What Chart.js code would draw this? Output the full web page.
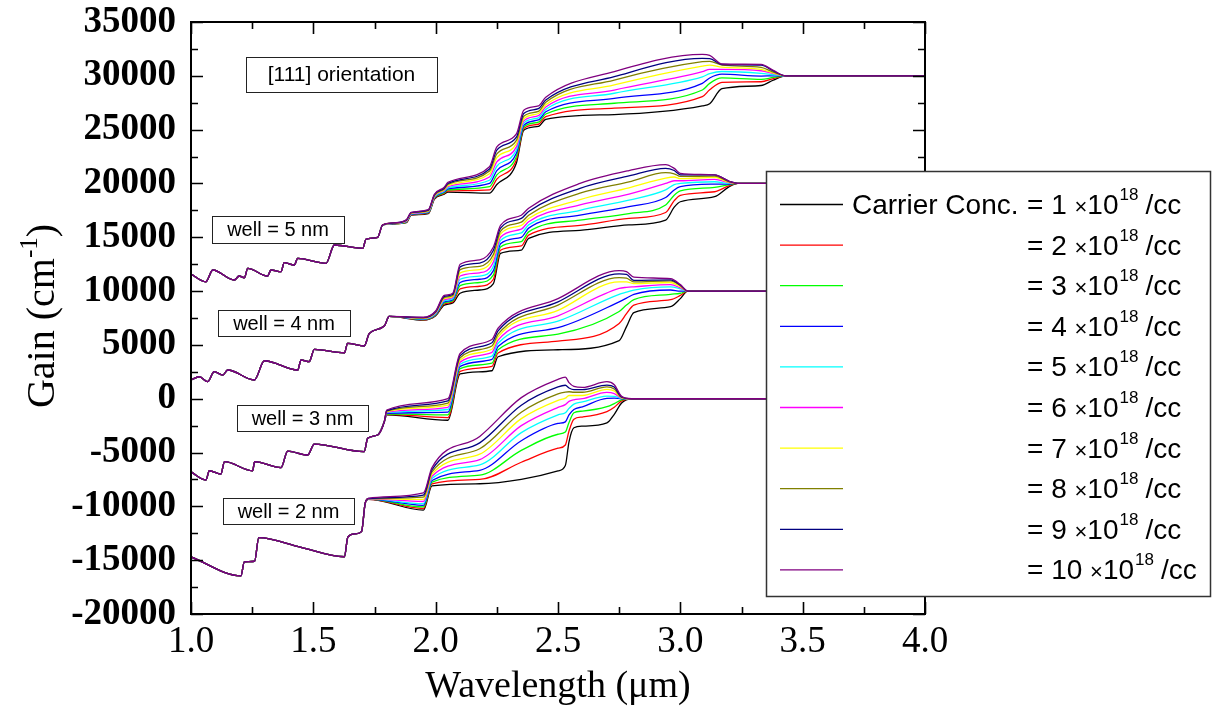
<!DOCTYPE html>
<html>
<head>
<meta charset="utf-8">
<title>Gain spectra</title>
<script src="https://cdn.jsdelivr.net/npm/chart.js@4.4.1/dist/chart.umd.min.js"></script>
<style>
  html, body { margin: 0; padding: 0; background: #fff; }
  canvas { display: block; }
</style>
</head>
<body>
<canvas id="chart" width="1212" height="712"></canvas>
<script>
// carrier concentrations (x10^18 /cc) and their line colours
var concentrations = [1, 2, 3, 4, 5, 6, 7, 8, 9, 10];
var lineColors = ['#000000', '#ff0000', '#00ff00', '#0000ff', '#00ffff',
                  '#ff00ff', '#ffff00', '#808000', '#000080', '#800080'];
var wellLabels = ['well = 5 nm', 'well = 4 nm', 'well = 3 nm', 'well = 2 nm'];

// well = 2 nm : part where all curves coincide
var well2CommonX = [1.0, 1.204, 1.218, 1.26, 1.277, 1.45, 1.627, 1.641, 1.67, 1.697, 1.712];
var well2CommonGain = [-14700, -16450, -15150, -15100, -12900, -13800, -14680, -12850, -12550, -12350, -9700];
// well = 2 nm : one row per wavelength, one value per concentration (1..10)
var well2SplitX = [1.725, 1.95, 1.985, 2.18, 2.35, 2.5, 2.53, 2.545, 2.565, 2.6, 2.7, 2.73, 2.76, 2.8, 4.0];
var well2SplitGain = [
  [-9350, -9340, -9330, -9320, -9310, -9300, -9290, -9280, -9270, -9250],
  [-10350, -10200, -10050, -9900, -9750, -9550, -9350, -9150, -8950, -8750],
  [-8100, -7900, -7750, -7600, -7400, -7200, -7000, -6800, -6600, -6400],
  [-7900, -7500, -7100, -6650, -6150, -5650, -5150, -4650, -4100, -3500],
  [-7500, -5900, -4800, -3900, -3150, -2500, -1850, -1250, -600, 100],
  [-6700, -4600, -3300, -2300, -1500, -800, -150, 450, 1100, 1800],
  [-6200, -4300, -3100, -2150, -1300, -550, 50, 620, 1250, 2000],
  [-4000, -3000, -2200, -1500, -900, -250, 300, 650, 1000, 1500],
  [-2700, -1900, -1300, -1000, -500, -100, 300, 600, 850, 1150],
  [-2550, -1700, -1150, -750, -300, 0, 300, 600, 850, 1050],
  [-2250, -1200, -740, 40, 250, 590, 870, 1110, 1270, 1580],
  [-1450, -800, -450, 50, 220, 480, 720, 900, 1080, 1300],
  [-400, -200, -100, 0, 30, 60, 90, 120, 160, 220],
  [0, 0, 0, 0, 0, 0, 0, 0, 0, 0],
  [0, 0, 0, 0, 0, 0, 0, 0, 0, 0]
];

// well = 3 nm
var well3CommonX = [1.0, 1.061, 1.075, 1.122, 1.137, 1.252, 1.26, 1.368, 1.395, 1.477, 1.504, 1.708, 1.722, 1.763, 1.79];
var well3CommonGain = [-6800, -7550, -6690, -7000, -5850, -6690, -5850, -6410, -4860, -5230, -4210, -4920, -3680, -3370, -2140];
var well3SplitX = [1.8, 2.05, 2.1, 2.23, 2.255, 2.5, 2.75, 2.78, 2.81, 2.96, 3.0, 3.03, 4.0];
var well3SplitGain = [
  [-1500, -1450, -1400, -1350, -1300, -1250, -1200, -1150, -1100, -1050],
  [-2000, -1750, -1500, -1250, -1000, -800, -600, -400, -200, 0],
  [2300, 2550, 2800, 3000, 3200, 3400, 3600, 3800, 4000, 4200],
  [2600, 3000, 3300, 3650, 3950, 4300, 4600, 4900, 5200, 5500],
  [3900, 4250, 4550, 4850, 5150, 5450, 5750, 6000, 6300, 6550],
  [4550, 5350, 6000, 6600, 7200, 7700, 8200, 8700, 9000, 9300],
  [5400, 7000, 8100, 9000, 9700, 10250, 10850, 11250, 11600, 11900],
  [6700, 7900, 8700, 9350, 9900, 10350, 10850, 11200, 11550, 11800],
  [8000, 8700, 9200, 9700, 10100, 10400, 10700, 10850, 11000, 11300],
  [8550, 9200, 9700, 10100, 10400, 10600, 10800, 10950, 11050, 11150],
  [9300, 9600, 9800, 10000, 10200, 10300, 10400, 10500, 10550, 10600],
  [10000, 10000, 10000, 10000, 10000, 10000, 10000, 10000, 10000, 10000],
  [10000, 10000, 10000, 10000, 10000, 10000, 10000, 10000, 10000, 10000]
];

// well = 4 nm
var well4CommonX = [1.0, 1.034, 1.068, 1.095, 1.13, 1.15, 1.259, 1.3, 1.436, 1.45, 1.483, 1.504, 1.627, 1.64, 1.708, 1.729, 1.79, 1.81];
var well4CommonGain = [1740, 2040, 1580, 2510, 2200, 2670, 1740, 3530, 2670, 3600, 3440, 4590, 4270, 5150, 4900, 6075, 6750, 7650];
var well4SplitX = [1.95, 2.0, 2.035, 2.07, 2.1, 2.18, 2.236, 2.265, 2.35, 2.38, 2.59, 2.79, 2.94, 2.975, 3.0, 3.14, 3.2, 3.235, 4.0];
var well4SplitGain = [
  [7300, 7330, 7360, 7390, 7420, 7450, 7480, 7510, 7540, 7570],
  [7700, 7750, 7800, 7850, 7900, 7950, 8000, 8050, 8100, 8150],
  [8700, 8800, 8900, 9000, 9100, 9200, 9300, 9400, 9500, 9600],
  [8900, 9000, 9100, 9200, 9300, 9400, 9500, 9600, 9700, 9800],
  [9800, 10200, 10500, 10800, 11100, 11400, 11700, 12000, 12250, 12500],
  [10100, 10450, 10800, 11100, 11400, 11700, 12000, 12300, 12600, 12900],
  [10700, 11100, 11500, 11900, 12300, 12700, 13100, 13400, 13800, 14100],
  [13500, 13800, 14100, 14400, 14700, 15000, 15300, 15550, 15850, 16100],
  [13800, 14200, 14600, 15000, 15400, 15750, 16100, 16400, 16750, 17050],
  [14900, 15200, 15500, 15850, 16150, 16450, 16750, 17050, 17400, 17700],
  [15650, 16100, 16600, 17050, 17500, 18000, 18500, 19100, 19550, 20000],
  [16150, 16750, 17200, 17850, 18450, 19000, 19600, 20150, 20700, 21200],
  [16600, 17300, 18000, 18700, 19400, 20000, 20500, 21000, 21400, 21750],
  [17800, 18400, 18900, 19400, 19900, 20250, 20600, 20900, 21200, 21400],
  [18300, 18900, 19300, 19700, 20000, 20250, 20450, 20650, 20800, 20940],
  [18770, 19230, 19630, 19940, 20160, 20380, 20560, 20690, 20790, 20790],
  [19700, 19800, 19900, 19950, 20000, 20050, 20100, 20150, 20200, 20200],
  [20000, 20000, 20000, 20000, 20000, 20000, 20000, 20000, 20000, 20000],
  [20000, 20000, 20000, 20000, 20000, 20000, 20000, 20000, 20000, 20000]
];

// well = 5 nm
var well5CommonX = [1.0, 1.061, 1.089, 1.177, 1.197, 1.218, 1.232, 1.313, 1.327, 1.368, 1.381, 1.422, 1.436, 1.552, 1.586, 1.702, 1.715, 1.763, 1.783];
var well5CommonGain = [11580, 10870, 11960, 11030, 11400, 11240, 12110, 11400, 11960, 11800, 12640, 12420, 13040, 12580, 14280, 13970, 14810, 15000, 16140];
var well5SplitX = [1.83, 1.88, 1.9, 1.97, 1.995, 2.035, 2.05, 2.22, 2.25, 2.33, 2.36, 2.42, 2.45, 2.73, 3.09, 3.12, 3.17, 3.33, 3.38, 3.43, 4.0];
var well5SplitGain = [
  [16250, 16260, 16270, 16280, 16290, 16300, 16310, 16320, 16330, 16340],
  [16350, 16380, 16410, 16440, 16470, 16500, 16530, 16560, 16590, 16620],
  [17050, 17080, 17110, 17140, 17170, 17200, 17230, 17260, 17290, 17320],
  [17200, 17240, 17280, 17320, 17360, 17400, 17440, 17480, 17520, 17560],
  [18550, 18600, 18650, 18700, 18750, 18800, 18850, 18900, 18950, 19000],
  [19000, 19070, 19140, 19210, 19280, 19350, 19420, 19490, 19560, 19650],
  [19200, 19300, 19400, 19500, 19600, 19700, 19800, 19900, 20000, 20100],
  [19100, 19400, 19700, 20000, 20300, 20600, 20900, 21150, 21350, 21550],
  [19900, 20400, 20800, 21200, 21600, 22000, 22400, 22750, 23100, 23400],
  [21900, 22200, 22500, 22800, 23100, 23400, 23700, 24000, 24300, 24600],
  [24950, 25100, 25250, 25400, 25600, 25800, 26000, 26250, 26500, 26800],
  [25300, 25500, 25700, 25900, 26100, 26300, 26500, 26700, 26950, 27200],
  [25960, 26200, 26450, 26660, 26880, 27100, 27310, 27540, 27750, 28000],
  [26400, 26990, 27450, 27910, 28380, 28680, 29150, 29610, 29920, 30390],
  [27200, 28060, 28680, 29300, 29910, 30380, 30910, 31310, 31620, 31990],
  [27400, 28700, 29300, 29800, 30200, 30600, 31000, 31350, 31600, 31900],
  [28800, 29400, 29800, 30150, 30400, 30600, 30800, 31000, 31050, 31100],
  [29100, 29450, 29670, 29980, 30230, 30470, 30600, 30790, 31000, 31060],
  [29600, 29750, 29850, 30000, 30100, 30200, 30250, 30350, 30450, 30500],
  [30000, 30000, 30000, 30000, 30000, 30000, 30000, 30000, 30000, 30000],
  [30000, 30000, 30000, 30000, 30000, 30000, 30000, 30000, 30000, 30000]
];

var wells = [
  [well2CommonX, well2CommonGain, well2SplitX, well2SplitGain],
  [well3CommonX, well3CommonGain, well3SplitX, well3SplitGain],
  [well4CommonX, well4CommonGain, well4SplitX, well4SplitGain],
  [well5CommonX, well5CommonGain, well5SplitX, well5SplitGain]
];

function curvePoints(w, i) {
  var pts = w[0].map(function(x, k) { return {x: x, y: w[1][k]}; });
  w[2].forEach(function(x, k) { pts.push({x: x, y: w[3][k][i]}); });
  return pts;
}

var datasets = [];
wells.forEach(function(w) {
  concentrations.forEach(function(c, i) {
    datasets.push({
      label: c + 'e18',
      data: curvePoints(w, i),
      borderColor: lineColors[i],
      borderWidth: 1.3,
      pointRadius: 0,
      fill: false,
      cubicInterpolationMode: 'monotone',
      order: concentrations.length - i
    });
  });
});

function setFont(ctx, size, family, weight) {
  ctx.font = (weight || 'normal') + ' ' + size + 'px ' + family;
}

var decorations = {
  id: 'decorations',
  afterDraw: function(chart) {
    var ctx = chart.ctx, a = chart.chartArea;
    var xs = chart.scales.x, ys = chart.scales.y;
    var serif = '"Liberation Serif", "Times New Roman", serif';
    var sans = '"Liberation Sans", Arial, sans-serif';
    ctx.save();

    // frame and inward ticks
    ctx.strokeStyle = '#000';
    ctx.lineWidth = 2;
    ctx.strokeRect(a.left, a.top, a.right - a.left, a.bottom - a.top);
    ctx.lineWidth = 1.6;
    ctx.beginPath();
    xs.ticks.forEach(function(t) {
      var px = Math.round(xs.getPixelForValue(t.value)) + 0.5;
      var len = Math.abs(t.value * 2 - Math.round(t.value * 2)) < 1e-6 ? 12 : 7;
      ctx.moveTo(px, a.bottom); ctx.lineTo(px, a.bottom - len);
      ctx.moveTo(px, a.top); ctx.lineTo(px, a.top + len);
    });
    ys.ticks.forEach(function(t) {
      var py = Math.round(ys.getPixelForValue(t.value)) + 0.5;
      var len = t.value % 5000 === 0 ? 12 : 7;
      ctx.moveTo(a.left, py); ctx.lineTo(a.left + len, py);
      ctx.moveTo(a.right, py); ctx.lineTo(a.right - len, py);
    });
    ctx.stroke();

    // axis titles
    ctx.fillStyle = '#000';
    ctx.textBaseline = 'alphabetic';
    setFont(ctx, 38, serif);
    ctx.textAlign = 'center';
    ctx.fillText('Wavelength (\u03bcm)', (a.left + a.right) / 2, 697);

    ctx.save();
    ctx.translate(54, 316);
    ctx.rotate(-Math.PI / 2);
    var p1 = 'Gain (cm', p3 = ')';
    setFont(ctx, 40, serif);
    var w1 = ctx.measureText(p1).width, w3 = ctx.measureText(p3).width;
    setFont(ctx, 25, serif);
    var w2 = ctx.measureText('-1').width;
    var x0 = -(w1 + w2 + w3) / 2;
    ctx.textAlign = 'left';
    setFont(ctx, 40, serif);
    ctx.fillText(p1, x0, 0);
    setFont(ctx, 25, serif);
    ctx.fillText('-1', x0 + w1, -17);
    setFont(ctx, 40, serif);
    ctx.fillText(p3, x0 + w1 + w2, 0);
    ctx.restore();

    // labelled boxes
    var boxes = [
      ['[111] orientation', 246, 57, 191, 35, 21],
      [wellLabels[0], 212, 216, 132, 27, 20],
      [wellLabels[1], 218, 310, 132, 26, 20],
      [wellLabels[2], 237, 405, 131, 26, 20],
      [wellLabels[3], 223, 498, 131, 26, 20]
    ];
    ctx.lineWidth = 1;
    ctx.strokeStyle = '#222';
    ctx.textAlign = 'center';
    ctx.textBaseline = 'middle';
    boxes.forEach(function(b) {
      ctx.fillStyle = '#fff';
      ctx.fillRect(b[1], b[2], b[3], b[4]);
      ctx.strokeRect(b[1] + 0.5, b[2] + 0.5, b[3], b[4]);
      ctx.fillStyle = '#000';
      setFont(ctx, b[5], sans);
      ctx.fillText(b[0], b[1] + b[3] / 2, b[2] + b[4] / 2 + 1);
    });

    // legend
    var L = {left: 766, top: 171, width: 445, height: 426};
    ctx.fillStyle = '#fff';
    ctx.fillRect(L.left, L.top, L.width, L.height);
    ctx.strokeStyle = '#333';
    ctx.lineWidth = 1.5;
    ctx.strokeRect(L.left + 0.5, L.top + 0.5, L.width - 1, L.height - 1);
    ctx.textAlign = 'left';
    ctx.textBaseline = 'alphabetic';
    concentrations.forEach(function(c, i) {
      var ry = 204.5 + i * 40.6;
      ctx.strokeStyle = lineColors[i];
      ctx.lineWidth = 1.3;
      ctx.beginPath();
      ctx.moveTo(780, ry); ctx.lineTo(843, ry);
      ctx.stroke();
      var base = ry + 9.5;
      ctx.fillStyle = '#000';
      setFont(ctx, 28, sans);
      if (i === 0) ctx.fillText('Carrier Conc.', 852, base);
      var x = 1027;
      var s = '= ' + c + ' ';
      ctx.fillText(s, x, base);
      x += ctx.measureText(s).width;
      setFont(ctx, 22, sans);
      ctx.fillText('\u00d7', x, base);
      x += ctx.measureText('\u00d7').width;
      setFont(ctx, 28, sans);
      ctx.fillText('10', x, base);
      x += ctx.measureText('10').width + 1;
      setFont(ctx, 17, sans);
      ctx.fillText('18', x, base - 14);
      x += ctx.measureText('18').width + 7;
      setFont(ctx, 28, sans);
      ctx.fillText('/cc', x, base);
    });

    ctx.restore();
  }
};

new Chart(document.getElementById('chart'), {
  type: 'line',
  data: { datasets: datasets },
  plugins: [decorations],
  options: {
    responsive: false,
    animation: false,
    layout: { padding: { top: 22, right: 287, bottom: 0, left: 0 } },
    plugins: { legend: { display: false }, tooltip: { enabled: false } },
    scales: {
      x: {
        type: 'linear', min: 1, max: 4,
        grid: { display: false, drawTicks: false },
        border: { display: false },
        afterFit: function(s) { s.height = 98; s.paddingLeft = 0; s.paddingRight = 0; },
        ticks: {
          stepSize: 0.25, autoSkip: false, maxRotation: 0, padding: 6,
          color: '#000',
          font: { family: '"Liberation Serif", "Times New Roman", serif', size: 37 },
          callback: function(v) {
            return Math.abs(v * 2 - Math.round(v * 2)) < 1e-6 ? v.toFixed(1) : '';
          }
        }
      },
      y: {
        type: 'linear', min: -20000, max: 35000,
        grid: { display: false, drawTicks: false },
        border: { display: false },
        afterFit: function(s) { s.width = 191; s.paddingTop = 0; s.paddingBottom = 0; },
        ticks: {
          stepSize: 2500, autoSkip: false, padding: 15,
          color: '#000',
          font: { family: '"Liberation Serif", "Times New Roman", serif', size: 37, weight: 'bold' },
          callback: function(v) { return v % 5000 === 0 ? String(v) : ''; }
        }
      }
    }
  }
});
</script>
</body>
</html>
